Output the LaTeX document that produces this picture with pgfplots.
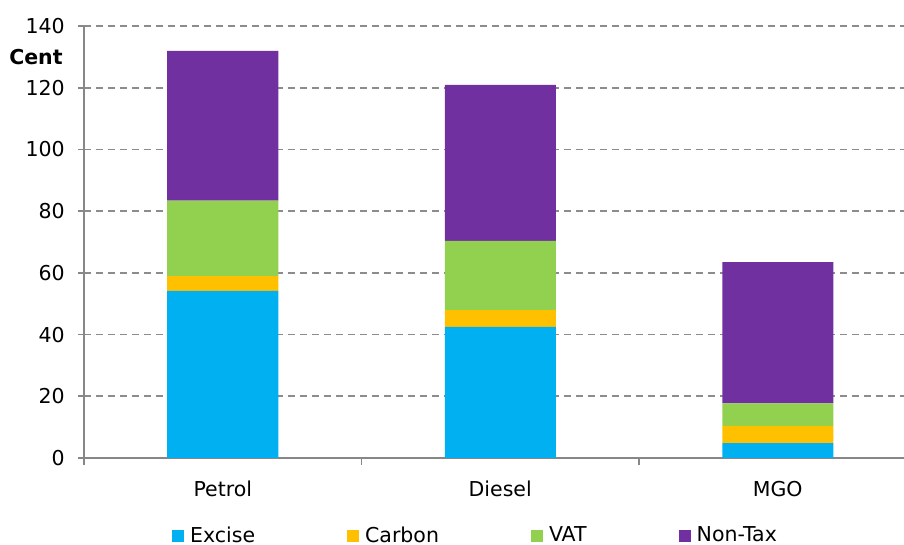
\documentclass[border=0pt]{standalone}
\usepackage{pgfplots}
\pgfplotsset{compat=1.18}
\usepackage{fontspec}
\setmainfont{DejaVu Sans}
\definecolor{cExcise}{HTML}{00B0F0}
\definecolor{cCarbon}{HTML}{FFC000}
\definecolor{cVAT}{HTML}{92D050}
\definecolor{cNonTax}{HTML}{7030A0}
\definecolor{cAxis}{HTML}{878787}
\definecolor{cGrid}{HTML}{8C8C8C}
\begin{document}
\fontsize{10.25}{12.3}\selectfont
\begin{tikzpicture}
\begin{axis}[
  at={(0,0)}, anchor=south west,
  scale only axis, width=410pt, height=216pt,
  ybar stacked, bar width=55.5pt,
  xmin=-0.5, xmax=2.455, ymin=0, ymax=140,
  ytick={0,20,...,140},
  xtick={0,1,2}, xticklabels={Petrol,Diesel,MGO},
  minor xtick={-0.5,0.5,1.5,2.5},
  /pgf/number format/assume math mode=true,
  axis x line=bottom, axis y line=left,
  axis line style={-, draw=cAxis, line width=0.8pt},
  tick style={draw=cAxis, line width=0.8pt},
  major x tick style={draw=none},
  tick align=outside,
  major tick length=3pt, minor tick length=3.5pt,
  ymajorgrids,
  major grid style={draw=cGrid, dash pattern=on 3.5pt off 2.5pt, line width=0.9pt},
  tick label style={font=\fontsize{10.25}{12.3}\selectfont},
  yticklabel style={xshift=-3pt},
  xticklabel style={yshift=-5pt},
  legend style={at={(0.4787,-0.1806)}, anchor=center, draw=none, fill=none,
    legend columns=4, font=\fontsize{10.25}{12.3}\selectfont,
    /tikz/every odd column/.append style={column sep=1pt},
    /tikz/every even column/.append style={column sep=44pt},
    inner sep=0pt},
  legend image code/.code={\fill[#1] (0pt,-3pt) rectangle (6pt,3pt);},
]
\addplot[fill=cExcise, draw=none] coordinates {(0,54.2) (1,42.5) (2,4.8)};
\addplot[fill=cCarbon, draw=none] coordinates {(0,4.7) (1,5.4) (2,5.6)};
\addplot[fill=cVAT, draw=none] coordinates {(0,24.5) (1,22.5) (2,7.3)};
\addplot[fill=cNonTax, draw=none] coordinates {(0,48.5) (1,50.5) (2,45.8)};
\legend{Excise,Carbon,VAT,Non-Tax}
\end{axis}
\node[anchor=east, inner sep=0pt, font=\bfseries] at (-10.5pt,200.5pt) {Cent};
\pgfresetboundingbox
\path (-42pt,-43.5pt) rectangle (410pt,229pt);
\end{tikzpicture}
\end{document}
